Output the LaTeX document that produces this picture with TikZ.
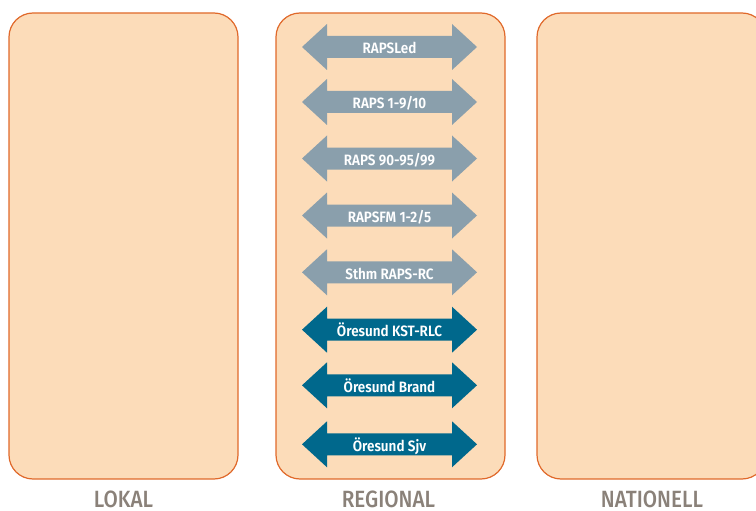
\documentclass[tikz,border=0pt]{standalone}
\usepackage{fontspec}
\setmainfont{Fira Sans}
\newfontfamily\medfont{Fira Sans Medium}[FakeStretch=0.88]
\newfontfamily\sbfont{Fira Sans SemiBold}[FakeStretch=0.9]
\definecolor{panelfill}{HTML}{FCDCB9}
\definecolor{panelline}{HTML}{E0692B}
\definecolor{grayarrow}{HTML}{8A9FAC}
\definecolor{tealarrow}{HTML}{00688C}
\definecolor{labelgray}{HTML}{8A8179}
\tikzset{
  panel/.style={draw=panelline, fill=panelfill, line width=1.2pt, rounded corners=24pt,
    minimum width=229pt, minimum height=466pt, inner sep=0pt},
  arrowtext/.style={anchor=base, text=white, font=\sbfont\fontsize{15}{15}\selectfont, inner sep=0pt},
  levellabel/.style={anchor=base, text=labelgray, text depth=0pt, font=\medfont\fontsize{23.5}{23.5}\selectfont, inner sep=0pt}
}
\begin{document}
\begin{tikzpicture}[x=1pt,y=-1pt]
\useasboundingbox (0,0) rectangle (756,511);
\node[panel] (lokal) at (123.5,246) {};
\node[panel] (regional) at (390.5,246) {};
\begin{scope}
\clip (0,0) rectangle (756,511);
\node[panel] (nationell) at (651.5,246) {};
\end{scope}
\node[levellabel] (llokal) at (123.5,507) {LOKAL};
\node[levellabel] (lregional) at (388.5,507) {REGIONAL};
\node[levellabel] (lnationell) at (652,507) {NATIONELL};
\foreach \y/\t/\c [count=\i] in {47/RAPSLed/grayarrow, 102/{RAPS 1-9/10}/grayarrow, 158.5/{RAPS 90-95/99}/grayarrow, 215.5/{RAPSFM 1-2/5}/grayarrow, 272.3/{Sthm RAPS-RC}/grayarrow, 329.7/{Öresund KST-RLC}/tealarrow, 385.3/{Öresund Brand}/tealarrow, 444.3/{Öresund Sjv}/tealarrow}{
  \fill[\c] (302,\y) -- (327,\y-23) -- (327,\y-11) -- (452,\y-11) -- (452,\y-23) -- (477,\y)
    -- (452,\y+23) -- (452,\y+11) -- (327,\y+11) -- (327,\y+23) -- cycle;
  \node[arrowtext] (a\i) at (389.5,\y+6.7) {\t};
}
\end{tikzpicture}
\end{document}
